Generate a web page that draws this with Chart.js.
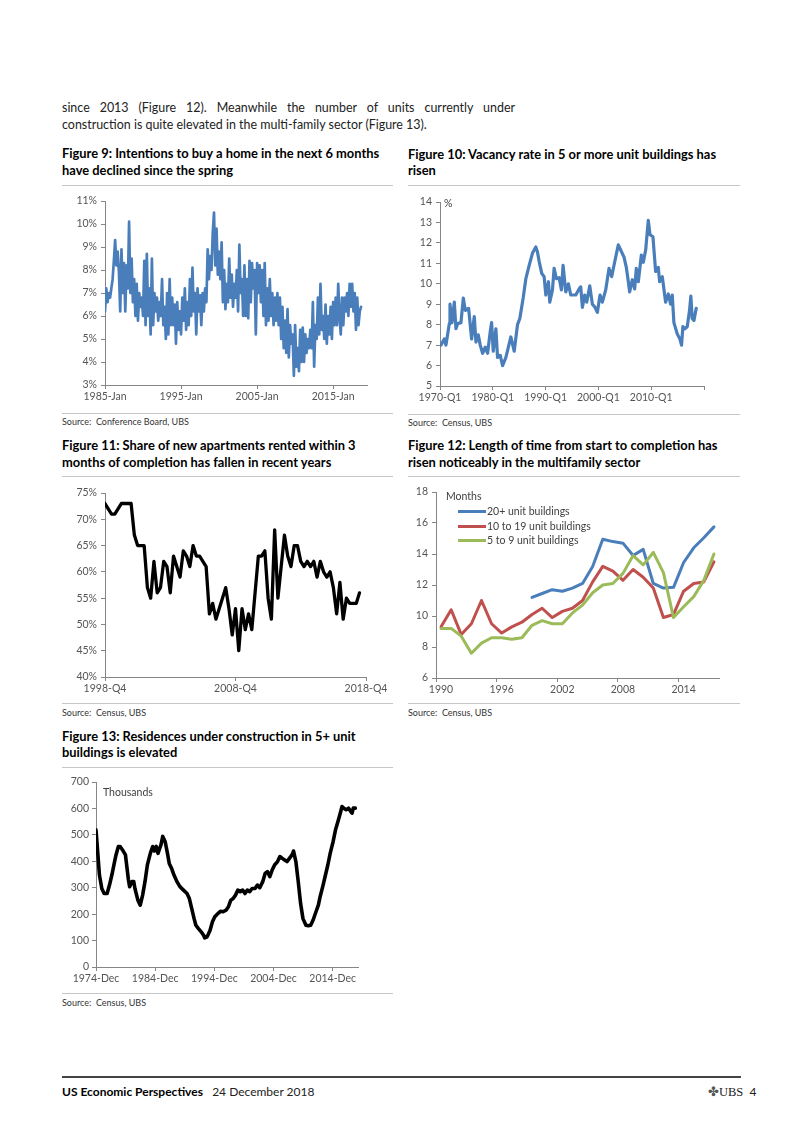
<!DOCTYPE html>
<html><head><meta charset="utf-8">
<script src="https://cdn.jsdelivr.net/npm/chart.js@4.4.0/dist/chart.umd.min.js"></script>
<style>
html,body{margin:0;padding:0;background:#fff;}
body{width:802px;height:1133px;position:relative;overflow:hidden;font-family:Lato,'Open Sans',sans-serif;color:#111;}
.t{position:absolute;white-space:nowrap;line-height:16px;}
.title{font-weight:bold;font-size:12px;color:#000;}
.body{font-size:12px;color:#222;}
.src{font-size:9px;color:#333;}
.rule{position:absolute;height:1px;background:#c6c6c6;}
canvas{position:absolute;}
.lab{position:absolute;font-size:10.5px;color:#404040;white-space:nowrap;line-height:12px;}
.lg{position:absolute;height:3px;}
</style></head>
<body>
<div class="t body" id="p1" style="left:62px;top:100px;width:453px;white-space:normal;text-align:justify;text-align-last:justify;">since 2013 (Figure 12). Meanwhile the number of units currently under</div>
<div class="t body" id="p2" style="left:62px;top:117px;">construction is quite elevated in the multi-family sector (Figure 13).</div>

<div class="t title" id="t9" style="left:62px;top:145px;">Figure 9: Intentions to buy a home in the next 6 months</div>
<div class="t title" style="left:62px;top:162px;">have declined since the spring</div>
<div class="t title" style="left:408px;top:146px;">Figure 10: Vacancy rate in 5 or more unit buildings has</div>
<div class="t title" style="left:408px;top:162px;">risen</div>
<div class="rule" style="left:62px;top:185px;width:331px;"></div>
<div class="rule" style="left:408px;top:185px;width:332px;"></div>

<div class="rule" style="left:62px;top:413px;width:331px;"></div>
<div class="rule" style="left:408px;top:414px;width:332px;"></div>
<div class="t src" id="s9" style="left:62px;top:414px;">Source:&nbsp;&nbsp;Conference Board, UBS</div>
<div class="t src" style="left:408px;top:415px;">Source:&nbsp;&nbsp;Census, UBS</div>

<div class="t title" style="left:62px;top:437px;">Figure 11: Share of new apartments rented within 3</div>
<div class="t title" style="left:62px;top:454px;">months of completion has fallen in recent years</div>
<div class="t title" style="left:408px;top:437px;">Figure 12: Length of time from start to completion has</div>
<div class="t title" style="left:408px;top:454px;">risen noticeably in the multifamily sector</div>
<div class="rule" style="left:62px;top:476px;width:331px;"></div>
<div class="rule" style="left:408px;top:476px;width:332px;"></div>

<div class="rule" style="left:62px;top:703px;width:331px;"></div>
<div class="rule" style="left:408px;top:703px;width:332px;"></div>
<div class="t src" style="left:62px;top:705px;">Source:&nbsp;&nbsp;Census, UBS</div>
<div class="t src" style="left:408px;top:705px;">Source:&nbsp;&nbsp;Census, UBS</div>

<div class="t title" style="left:62px;top:728px;">Figure 13: Residences under construction in 5+ unit</div>
<div class="t title" style="left:62px;top:744px;">buildings is elevated</div>
<div class="rule" style="left:62px;top:767px;width:331px;"></div>
<div class="rule" style="left:62px;top:993px;width:331px;"></div>
<div class="t src" style="left:62px;top:995px;">Source:&nbsp;&nbsp;Census, UBS</div>

<div style="position:absolute;left:62px;top:1076px;width:679px;height:1.5px;background:#444;"></div>
<div class="t" id="f1" style="left:62px;top:1084px;font-size:12px;"><b style="color:#000">US Economic Perspectives</b>&nbsp;&nbsp;&nbsp;<span style="color:#222">24 December 2018</span></div>
<div class="t" style="left:708px;top:1084px;font-size:12px;color:#222;"><span style="font-family:'DejaVu Sans';color:#555;font-size:13px;">&#10020;</span><span style="font-family:'Liberation Serif';font-size:12.5px;">UBS</span>&nbsp;&nbsp;4</div>

<canvas id="c9"></canvas>
<canvas id="c10"></canvas>
<canvas id="c11"></canvas>
<canvas id="c12"></canvas>
<canvas id="c13"></canvas>

<div class="lab" style="left:444px;top:197px;">%</div>
<div class="lab" style="left:446px;top:490px;">Months</div>
<div class="lg" style="left:458px;top:510px;width:28px;background:#4A7EBB;"></div>
<div class="lab" style="left:487px;top:505px;">20+ unit buildings</div>
<div class="lg" style="left:458px;top:525px;width:28px;background:#C0504D;"></div>
<div class="lab" style="left:487px;top:520px;">10 to 19 unit buildings</div>
<div class="lg" style="left:458px;top:539px;width:28px;background:#9BBB59;"></div>
<div class="lab" style="left:487px;top:534px;">5 to 9 unit buildings</div>
<div class="lab" style="left:103px;top:786px;">Thousands</div>

<script>
// ---------- DATA ----------
// Figure 9: intentions to buy a home within 6 months (%), bi-monthly from 1985-Jan
const fig9Start = 1985;
const fig9PerYear = 6;
const fig9Values = [
 6.2,7.2,6.6,7.0,6.8,7.2,
 7.6,8.4,9.3,8.2,8.8,7.9,
 6.2,8.9,7.0,8.3,6.2,8.2,
 7.2,10.1,7.0,8.5,6.6,7.6,
 6.0,7.4,5.8,7.0,6.4,6.8,
 6.0,8.4,5.6,8.7,6.0,7.2,
 5.2,8.5,5.6,7.0,6.2,6.8,
 5.8,6.6,6.0,7.6,5.6,6.4,
 5.0,7.0,5.2,7.6,5.6,6.8,
 5.6,6.5,4.8,6.6,5.4,6.2,
 5.2,6.8,5.8,7.2,5.4,6.6,
 5.6,7.6,6.0,8.1,6.2,7.0,
 5.2,7.2,6.2,6.9,5.6,7.0,
 6.2,7.2,6.6,8.9,7.6,8.6,
 8.0,9.6,10.5,8.2,9.8,7.8,
 8.8,7.6,9.2,6.6,8.0,6.3,
 7.4,6.6,8.5,6.8,7.8,6.4,
 7.4,6.8,8.0,6.2,9.1,7.0,
 7.6,6.0,8.2,6.0,7.6,5.9,
 8.4,6.6,8.3,7.2,8.0,5.2,
 8.3,7.0,8.2,6.6,8.0,6.0,
 8.3,5.6,7.2,5.8,7.6,6.0,
 7.0,5.6,6.8,5.8,7.0,5.6,
 6.8,5.0,6.4,4.6,5.8,4.4,
 6.3,4.2,5.6,4.8,5.2,3.4,
 5.6,3.8,4.6,3.6,5.4,4.0,
 5.5,4.0,5.2,4.4,5.0,4.6,
 5.4,4.6,6.6,3.8,5.6,5.0,
 6.8,5.2,7.4,5.4,6.0,5.0,
 6.5,4.8,6.0,5.2,6.4,5.0,
 6.6,5.6,6.8,5.6,7.4,6.0,
 5.2,6.8,5.6,6.8,6.2,7.0,
 6.0,7.4,6.4,7.4,6.2,7.0,
 5.4,6.8,5.6,6.2,6.4
];
const fig9TickYears = [1985, 1995, 2005, 2015];
const fig9TickLabels = ['1985-Jan', '1995-Jan', '2005-Jan', '2015-Jan'];

// Figure 10: vacancy rate in 5+ unit buildings (%)
const fig10Years = [1970.19,1970.82,1971.13,1971.76,1971.89,1972.27,1972.71,1973.02,1973.34,1973.97,
 1974.41,1974.79,1975.42,1975.99,1976.49,1976.81,1977.25,1977.62,1978.07,1978.57,
 1979.01,1979.51,1979.77,1980.08,1980.59,1980.90,1981.41,1981.85,1982.48,1983.42,
 1984.05,1984.68,1985.12,1985.75,1986.26,1986.89,1987.52,1988.15,1988.46,1988.78,
 1989.28,1989.72,1990.04,1990.54,1990.79,1991.30,1991.61,1992.05,1992.56,1993.00,
 1993.31,1993.82,1994.32,1994.76,1995.71,1996.34,1996.65,1996.97,1997.41,1997.79,
 1998.36,1998.86,1999.36,1999.80,2000.31,2000.75,2001.38,2002.01,2002.51,2003.27,
 2003.77,2004.22,2004.85,2005.29,2005.67,2005.92,2006.43,2006.87,2007.18,2007.56,
 2008.13,2008.51,2008.95,2009.45,2009.77,2010.33,2010.84,2011.34,2011.60,2012.10,
 2012.73,2013.24,2013.68,2013.99,2014.30,2014.93,2015.43,2015.75,2016.00,2016.38,
 2016.82,2017.26,2017.51,2017.77,2018.09,2018.53];
const fig10Values = [7.0,7.3,7.0,8.05,9.0,8.1,9.1,7.8,8.05,8.1,
 9.3,8.7,8.8,7.3,8.4,7.15,7.5,7.0,6.6,6.9,
 6.6,7.65,8.1,6.7,7.8,6.4,6.5,6.0,6.4,7.4,
 6.7,8.0,8.3,9.3,10.25,10.9,11.5,11.8,11.55,11.1,
 10.5,10.35,9.45,10.1,9.1,9.7,10.75,10.25,10.3,9.7,
 10.9,9.6,10.0,9.45,9.45,9.75,9.85,8.85,9.45,9.1,
 9.9,9.0,8.85,8.6,9.45,9.1,9.7,10.75,10.35,11.3,
 11.9,11.65,11.3,10.8,10.1,9.6,10.2,9.75,10.75,10.1,
 11.4,11.05,11.65,13.1,12.4,12.3,10.6,10.8,10.1,10.35,
 9.1,9.5,9.0,9.45,8.1,7.55,7.3,7.0,7.9,7.8,
 7.9,8.7,9.4,8.3,8.2,8.8];
const fig10TickYears = [1970, 1980, 1990, 2000, 2010, 2020];
const fig10TickLabels = ['1970-Q1', '1980-Q1', '1990-Q1', '2000-Q1', '2010-Q1', ''];

// Figure 11: share of new apartments rented within 3 months (%), quarterly from 1998-Q4
const fig11Values = [73,72,71,71,72,73,73,73,73,67,
 65,65,65,57,55,62,56,57,62,61,
 56,63,61,59,64,63,61,65,63,63,
 62,61,52,54,51,53,55,57,53,48,
 53,45,53,49,52,49,56,63,63,64,
 55,51,68,55,61,67,63,61,65,65,
 62,61,62,61,62,59,62,60,59,60,
 57,52,58,51,55,54,54,54,56];
const fig11TickQuarters = [0, 40, 80];
const fig11TickLabels = ['1998-Q4', '2008-Q4', '2018-Q4'];

// Figure 12: months from start to completion
const fig12Years = [1990,1991,1992,1993,1994,1995,1996,1997,1998,1999,2000,2001,2002,2003,2004,2005,2006,2007,2008,2009,2010,2011,2012,2013,2014,2015,2016,2017];
const fig12Units20 = [null,null,null,null,null,null,null,null,null,11.2,11.45,11.7,11.6,11.8,12.1,13.2,14.95,14.8,14.7,13.9,14.3,12.1,11.8,11.85,13.45,14.4,15.05,15.75];
const fig12Units10to19 = [9.3,10.4,8.8,9.5,11.0,9.5,8.9,9.3,9.6,10.1,10.5,9.9,10.3,10.5,11.0,12.2,13.2,12.9,12.3,13.0,12.5,11.8,9.9,10.1,11.6,12.1,12.2,13.5];
const fig12Units5to9 = [9.2,9.2,8.7,7.6,8.25,8.6,8.6,8.5,8.6,9.4,9.7,9.5,9.5,10.2,10.7,11.5,12.0,12.1,12.75,13.9,13.3,14.1,12.8,9.9,10.6,11.25,12.3,14.0];
const fig12TickLabels = ['1990', '1996', '2002', '2008', '2014'];

// Figure 13: residences under construction in 5+ unit buildings (thousands)
const fig13Years = [1974.92,1975.2,1975.5,1975.9,1976.3,1976.8,1977.2,1977.6,1978.0,1978.3,
 1978.7,1979.0,1979.4,1979.9,1980.1,1980.4,1980.6,1981.0,1981.3,1981.5,
 1982.0,1982.4,1982.8,1983.2,1983.6,1984.1,1984.5,1984.8,1985.1,1985.4,
 1985.6,1985.9,1986.2,1986.6,1987.0,1987.3,1987.7,1988.1,1988.6,1989.1,
 1989.7,1990.3,1990.7,1991.1,1991.5,1991.8,1992.2,1992.7,1993.1,1993.3,
 1993.7,1994.2,1994.6,1995.0,1995.5,1996.0,1996.4,1996.9,1997.3,1997.7,
 1998.1,1998.5,1998.9,1999.3,1999.7,2000.1,2000.5,2000.9,2001.3,2001.8,
 2002.2,2002.6,2003.1,2003.5,2003.9,2004.3,2004.7,2005.1,2005.6,2006.0,
 2006.4,2006.8,2007.2,2007.7,2008.1,2008.3,2008.7,2009.1,2009.5,2009.9,
 2010.4,2010.8,2011.2,2011.6,2012.1,2012.5,2012.8,2013.3,2013.7,2014.1,
 2014.5,2015.0,2015.4,2015.8,2016.2,2016.5,2016.8,2017.2,2017.6,2017.9,
 2018.2,2018.4,2018.75];
const fig13Values = [519,437,348,297,278,278,310,348,392,424,
 456,456,443,424,386,330,304,323,323,297,
 253,234,272,323,386,430,456,439,456,430,
 443,462,494,475,430,392,373,348,323,304,
 291,278,259,221,183,158,146,133,120,110,
 114,139,171,190,202,211,209,215,228,253,
 259,272,291,285,291,278,291,285,297,297,
 310,300,323,354,361,342,367,386,399,418,
 411,405,399,414,426,439,399,323,240,183,
 158,156,158,177,209,234,266,310,348,386,
 430,475,519,550,582,607,601,595,601,591,
 582,601,601];
const fig13TickYears = [1974.92, 1984.92, 1994.92, 2004.92, 2014.92];
const fig13TickLabels = ['1974-Dec', '1984-Dec', '1994-Dec', '2004-Dec', '2014-Dec'];

// ---------- TEXT FITTING ----------
const mctx = document.createElement('canvas').getContext('2d');
function fitSize(text, weight, target) {
  mctx.font = weight + ' 100px Lato';
  return 100 * target / mctx.measureText(text).width;
}
const titleSize = fitSize('Figure 9: Intentions to buy a home in the next 6 months', 'bold', 318);
document.querySelectorAll('.title').forEach(e => e.style.fontSize = titleSize + 'px');
const bodySize = fitSize('construction is quite elevated in the multi-family sector (Figure 13).', 'normal', 366);
document.querySelectorAll('.body').forEach(e => e.style.fontSize = bodySize + 'px');
const srcSize = fitSize('Source:  Conference Board, UBS', 'normal', 127);
document.querySelectorAll('.src').forEach(e => e.style.fontSize = srcSize + 'px');

// ---------- CHARTS ----------
const AX = '#868686';
const BLUE = '#4A7EBB', RED = '#C0504D', GREEN = '#9BBB59';
Chart.defaults.font.family = 'Lato';
Chart.defaults.font.size = 10.5;
Chart.defaults.color = '#555555';
Chart.defaults.animation = false;

function pts(xs, ys) { return xs.map((x, i) => ({x: x, y: ys[i]})); }

function makeChart(id, box, xo, yo, datasets) {
  const cv = document.getElementById(id);
  const left = box.l - box.yW, top = box.t - box.pt;
  const W = box.r + box.pr - left, H = box.b + box.xH - top;
  cv.style.left = left + 'px'; cv.style.top = top + 'px';
  cv.width = W; cv.height = H; cv.style.width = W + 'px'; cv.style.height = H + 'px';
  new Chart(cv, {
    type: 'line',
    data: {datasets: datasets},
    options: {
      responsive: false, animation: false,
      layout: {padding: {top: box.pt, right: box.pr, left: 0, bottom: 0}, autoPadding: false},
      plugins: {legend: {display: false}, tooltip: {enabled: false}},
      elements: {point: {radius: 0}, line: {tension: 0, borderJoinStyle: 'round', borderCapStyle: 'round'}},
      scales: {
        x: {
          type: 'linear', position: 'bottom', min: xo.min, max: xo.max,
          border: {display: true, color: AX, width: 1},
          grid: {drawOnChartArea: false, drawTicks: true, tickLength: 4, tickColor: AX},
          ticks: {autoSkip: false, maxRotation: 0, minRotation: 0, padding: 1, labelOffset: xo.labelOffset || 0,
                  callback: (v, i) => xo.labels[i]},
          afterBuildTicks: s => { s.ticks = xo.ticks.map(v => ({value: v})); },
          afterFit: s => { s.height = box.xH; s.paddingLeft = 0; s.paddingRight = 0; }
        },
        y: {
          type: 'linear', position: 'left', min: yo.min, max: yo.max,
          border: {display: true, color: AX, width: 1},
          grid: {drawOnChartArea: false, drawTicks: true, tickLength: 4, tickColor: AX},
          ticks: {stepSize: yo.step, padding: yo.pad, callback: yo.cb || (v => v)},
          afterFit: s => { s.width = box.yW; s.paddingTop = 0; s.paddingBottom = 0; }
        }
      }
    }
  });
}

// Figure 9
const fig9X = fig9Values.map((v, i) => fig9Start + i / fig9PerYear);
makeChart('c9', {l: 105, r: 367, t: 201, b: 385, yW: 45, xH: 24, pt: 10, pr: 24},
  {min: 1985, max: 2019.45, ticks: fig9TickYears, labels: fig9TickLabels},
  {min: 3, max: 11, step: 1, pad: 4, cb: v => v + '%'},
  [{data: pts(fig9X, fig9Values), borderColor: BLUE, borderWidth: 2.7}]);

// Figure 10
makeChart('c10', {l: 440, r: 704, t: 202, b: 386, yW: 36, xH: 24, pt: 10, pr: 28},
  {min: 1970, max: 2020, ticks: fig10TickYears, labels: fig10TickLabels},
  {min: 5, max: 14, step: 1, pad: 4},
  [{data: pts(fig10Years, fig10Values), borderColor: BLUE, borderWidth: 3.2}]);

// Figure 11
const fig11Q = fig11Values.map((v, i) => i);
makeChart('c11', {l: 105, r: 366, t: 493, b: 677, yW: 45, xH: 24, pt: 10, pr: 28},
  {min: 0, max: 80, ticks: fig11TickQuarters, labels: fig11TickLabels},
  {min: 40, max: 75, step: 5, pad: 4, cb: v => v + '%'},
  [{data: pts(fig11Q, fig11Values), borderColor: '#000', borderWidth: 3.3}]);

// Figure 12
makeChart('c12', {l: 436, r: 719, t: 492, b: 678, yW: 34, xH: 24, pt: 10, pr: 14},
  {min: 1989.5, max: 2017.5, ticks: [1989.5, 1995.5, 2001.5, 2007.5, 2013.5], labels: fig12TickLabels, labelOffset: 5},
  {min: 6, max: 18, step: 2, pad: 4},
  [
    {data: pts(fig12Years, fig12Units20), borderColor: BLUE, borderWidth: 3, order: 3, spanGaps: false},
    {data: pts(fig12Years, fig12Units10to19), borderColor: RED, borderWidth: 3, order: 2},
    {data: pts(fig12Years, fig12Units5to9), borderColor: GREEN, borderWidth: 3, order: 1}
  ]);

// Figure 13
makeChart('c13', {l: 96, r: 358, t: 782, b: 967, yW: 36, xH: 24, pt: 10, pr: 22},
  {min: 1974.92, max: 2019.2, ticks: fig13TickYears, labels: fig13TickLabels},
  {min: 0, max: 700, step: 100, pad: 3},
  [{data: pts(fig13Years, fig13Values), borderColor: '#000', borderWidth: 3.6}]);
</script>
</body></html>
